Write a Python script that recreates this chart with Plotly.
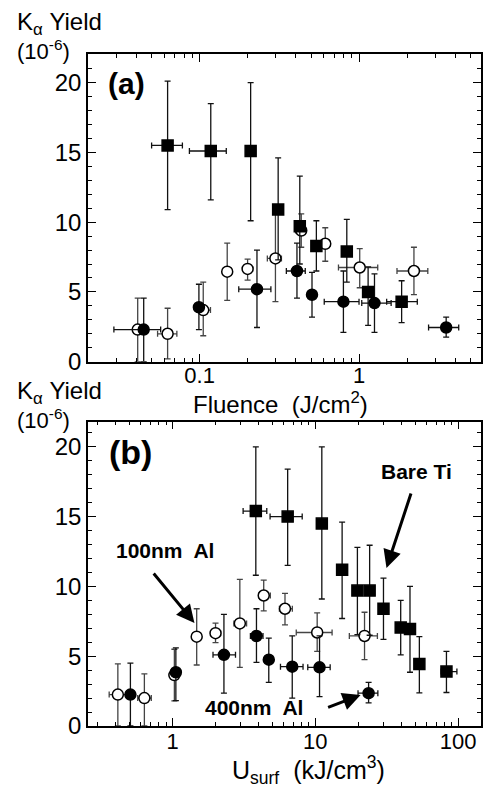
import plotly.graph_objects as go

# ---------------- Panel (a): K-alpha yield vs fluence ----------------
a_sq_x = [0.063, 0.1175, 0.209, 0.311, 0.425, 0.54, 0.838, 1.14, 1.85]
a_sq_y = [15.5, 15.1, 15.1, 10.9, 9.7, 8.3, 7.9, 5.0, 4.3]
a_sq_yhi = [20.1, 18.5, 20.0, 14.6, 13.3, 10.1, 10.2, 6.8, 5.8]
a_sq_ylo = [10.9, 11.6, 10.1, 7.3, 7.0, 6.5, 5.7, 2.6, 2.8]
a_sq_xlo = [0.050, 0.0863, None, None, None, None, None, None, 1.49]
a_sq_xhi = [0.078, 0.147, None, None, None, None, None, None, 2.32]

a_fc_x = [0.0446, 0.099, 0.229, 0.408, 0.507, 0.798, 1.25, 3.52]
a_fc_y = [2.3, 3.9, 5.2, 6.5, 4.8, 4.3, 4.2, 2.45]
a_fc_yhi = [4.55, 5.55, 8.0, 8.5, 6.4, 6.5, 6.3, 3.2]
a_fc_ylo = [0.0, 2.3, 2.45, 4.55, 3.2, 2.1, 2.1, 1.76]
a_fc_xlo = [0.029, None, 0.176, 0.35, None, 0.605, 1.04, 2.73]
a_fc_xhi = [0.057, None, 0.28, 0.46, None, 1.0, 1.59, 4.22]

a_oc_x = [0.0409, 0.063, 0.1054, 0.149, 0.2, 0.299, 0.434, 0.614, 1.01, 2.21]
a_oc_y = [2.3, 2.0, 3.7, 6.45, 6.65, 7.4, 9.4, 8.45, 6.75, 6.5]
a_oc_yhi = [4.55, 3.83, 5.7, 8.5, 7.35, 10.6, 10.6, 9.6, 8.1, 8.2]
a_oc_ylo = [0.0, 0.2, 1.86, 4.4, 5.85, 4.3, 8.2, 7.2, 5.3, 4.8]
a_oc_xlo = [None, 0.0545, 0.099, None, 0.189, 0.266, 0.40, 0.56, 0.743, 1.73]
a_oc_xhi = [None, 0.072, 0.117, None, 0.215, 0.326, 0.46, 0.66, 1.31, 2.70]

# ---------------- Panel (b): K-alpha yield vs U_surf ----------------
b_sq_x = [3.83, 6.4, 11.1, 15.4, 19.7, 24.0, 30.0, 39.6, 46.0, 53.5, 82.8]
b_sq_y = [15.4, 15.0, 14.5, 11.2, 9.7, 9.7, 8.4, 7.05, 6.95, 4.45, 3.9]
b_sq_yhi = [20.0, 18.4, 20.0, 14.6, 12.8, 12.95, 10.6, 9.0, 10.0, 6.4, 5.35]
b_sq_ylo = [10.8, 11.5, 9.1, 7.7, 6.55, 6.5, 6.2, 5.1, 3.85, 2.37, 2.4]
b_sq_xlo = [3.12, 4.82, None, None, None, None, None, None, None, None, 76.0]
b_sq_xhi = [4.57, 8.09, None, None, None, None, None, None, None, None, 98.0]

b_fc_x = [0.507, 1.055, 2.29, 3.87, 4.72, 6.89, 10.7, 23.6]
b_fc_y = [2.25, 3.85, 5.1, 6.45, 4.75, 4.25, 4.2, 2.35]
b_fc_yhi = [4.5, 5.6, 8.0, 8.4, 6.3, 6.45, 6.45, 3.13]
b_fc_ylo = [0.0, 1.82, 2.35, 4.56, 3.13, 2.0, 2.1, 1.66]
b_fc_xlo = [None, None, 1.92, 3.51, None, 5.7, 8.85, 19.9]
b_fc_xhi = [None, None, 2.76, 4.3, None, 8.2, 12.7, 27.4]

b_oc_x = [0.414, 0.635, 1.03, 1.476, 2.0, 2.96, 4.35, 6.13, 10.3, 22.1]
b_oc_y = [2.25, 2.0, 3.65, 6.4, 6.65, 7.35, 9.35, 8.4, 6.7, 6.45]
b_oc_yhi = [4.45, 3.73, 5.5, 8.4, 7.37, 10.5, 10.45, 9.5, 8.1, 8.15]
b_oc_ylo = [0.0, 0.0, 1.8, 4.37, 5.98, 4.2, 8.25, 7.25, 5.34, 4.75]
b_oc_xlo = [0.36, 0.57, None, None, 1.9, 2.69, 4.02, 5.6, 7.35, 17.3]
b_oc_xhi = [0.47, 0.71, None, None, 2.17, 3.3, 4.84, 6.9, 13.1, 27.2]

# tick labels
a_xtick_vals = [0.1, 1]
a_xtick_text = ["0.1", "1"]
b_xtick_vals = [1, 10, 100]
b_xtick_text = ["1", "10", "100"]
y_tick_vals = [0, 5, 10, 15, 20]
y_tick_text = ["0", "5", "10", "15", "20"]

FONT = "Liberation Sans, Arial, Helvetica, sans-serif"
W, H = 484, 787
ML, MR, MT, MB = 88, 1, 54, 61
PW = W - ML - MR
PH = H - MT - MB


def px(xp):
    return (xp - ML) / PW


def py(yp):
    return (H - MB - yp) / PH


def plus(c, hi):
    return [None if h is None else h - v for v, h in zip(c, hi)]


def minus(c, lo):
    return [None if l is None else v - l for v, l in zip(c, lo)]


def series(x, y, ylo, yhi, xlo, xhi, symbol, fill, ecol, xa, ya):
    return go.Scatter(
        x=x, y=y, mode="markers", xaxis=xa, yaxis=ya, showlegend=False,
        marker=dict(symbol=symbol, size=11, color=fill,
                    line=dict(color="black", width=1.5)),
        error_y=dict(type="data", symmetric=False, array=plus(y, yhi),
                     arrayminus=minus(y, ylo), color=ecol, thickness=1.3, width=3),
        error_x=dict(type="data", symmetric=False, array=plus(x, xhi),
                     arrayminus=minus(x, xlo), color=ecol, thickness=1.3, width=3),
    )


fig = go.Figure()
fig.add_trace(series(a_oc_x, a_oc_y, a_oc_ylo, a_oc_yhi, a_oc_xlo, a_oc_xhi,
                     "circle", "white", "#444", "x", "y"))
fig.add_trace(series(a_fc_x, a_fc_y, a_fc_ylo, a_fc_yhi, a_fc_xlo, a_fc_xhi,
                     "circle", "black", "#111", "x", "y"))
fig.add_trace(series(a_sq_x, a_sq_y, a_sq_ylo, a_sq_yhi, a_sq_xlo, a_sq_xhi,
                     "square", "black", "#111", "x", "y"))
fig.add_trace(series(b_oc_x, b_oc_y, b_oc_ylo, b_oc_yhi, b_oc_xlo, b_oc_xhi,
                     "circle", "white", "#444", "x2", "y2"))
fig.add_trace(series(b_fc_x, b_fc_y, b_fc_ylo, b_fc_yhi, b_fc_xlo, b_fc_xhi,
                     "circle", "black", "#111", "x2", "y2"))
fig.add_trace(series(b_sq_x, b_sq_y, b_sq_ylo, b_sq_yhi, b_sq_xlo, b_sq_xhi,
                     "square", "black", "#111", "x2", "y2"))


def minor_log(lo_dec, hi_dec):
    vals = []
    for d in range(lo_dec, hi_dec + 1):
        for m in range(2, 10):
            vals.append(m * 10 ** d)
    return vals


axis_common = dict(showline=True, linecolor="black", linewidth=1.5, mirror="ticks",
                   ticks="inside", ticklen=8, tickwidth=1.3, tickcolor="black",
                   showgrid=False, zeroline=False)
xfont = dict(family=FONT, size=22, color="black")
yfont = dict(family=FONT, size=24, color="black")

fig.update_layout(
    width=W, height=H, autosize=False,
    margin=dict(l=ML, r=MR, t=MT, b=MB, pad=0),
    paper_bgcolor="white", plot_bgcolor="white",
    xaxis=dict(type="log", range=[-1.70, 0.765], anchor="y", domain=[0, 1],
               tickmode="array", tickvals=a_xtick_vals, ticktext=a_xtick_text,
               ticklabelstandoff=-7, tickfont=xfont,
               minor=dict(tickmode="array", tickvals=minor_log(-2, 0), ticks="inside",
                          ticklen=4, tickcolor="black", tickwidth=1),
               **axis_common),
    yaxis=dict(range=[0, 22.05], anchor="x", domain=[py(361.7), 1],
               tickmode="array", tickvals=y_tick_vals, ticktext=y_tick_text,
               tickfont=yfont,
               minor=dict(dtick=1, ticks="inside", ticklen=4, tickcolor="black", tickwidth=1),
               **axis_common),
    xaxis2=dict(type="log", range=[-0.592, 2.16], anchor="y2", domain=[0, 1],
                tickmode="array", tickvals=b_xtick_vals, ticktext=b_xtick_text,
                ticklabelstandoff=-5, tickfont=xfont,
                minor=dict(tickmode="array", tickvals=minor_log(-1, 2), ticks="inside",
                           ticklen=4, tickcolor="black", tickwidth=1),
                **axis_common),
    yaxis2=dict(range=[0, 21.8], anchor="x2", domain=[0, py(421.7)],
                tickmode="array", tickvals=y_tick_vals, ticktext=y_tick_text,
                tickfont=yfont,
                minor=dict(dtick=1, ticks="inside", ticklen=4, tickcolor="black", tickwidth=1),
                **axis_common),
)


def text(xp, yp, s, size=22, bold=False, xanchor="center"):
    fig.add_annotation(x=px(xp), y=py(yp), xref="paper", yref="paper",
                       text=("<b>%s</b>" % s) if bold else s, showarrow=False,
                       xanchor=xanchor, yanchor="middle",
                       font=dict(family=FONT, size=size, color="black"))


def arrow(tx, ty, hx, hy):
    fig.add_annotation(x=px(hx), y=py(hy), xref="paper", yref="paper",
                       ax=tx - hx, ay=ty - hy, text="", showarrow=True,
                       arrowhead=2, arrowsize=1.2, arrowwidth=3, arrowcolor="black",
                       standoff=0)


# y-axis titles
text(15, 24, "K<sub>α</sub> Yield", size=24, xanchor="left")
text(15, 50, "(10<sup>-6</sup>)", size=22, xanchor="left")
text(15, 392, "K<sub>α</sub> Yield", size=24, xanchor="left")
text(15, 419, "(10<sup>-6</sup>)", size=22, xanchor="left")

# x-axis titles
text(281, 403, "Fluence  (J/cm<sup>2</sup>)", size=24)
text(310, 770, "U<sub>surf</sub>  (kJ/cm<sup>3</sup>)", size=25)

# panel labels
text(127, 84, "(a)", size=30, bold=True)
text(131, 452, "(b)", size=34, bold=True)

# annotations in panel (b)
text(418, 471, "Bare Ti", size=21, bold=True)
arrow(413, 492, 388, 568)
text(165, 550, "100nm  Al", size=21, bold=True)
arrow(153, 572, 195, 623)
text(255, 707, "400nm  Al", size=21, bold=True)
arrow(328, 708, 362, 695)

fig.write_html(
    "out.html",
    config={"displayModeBar": False},
    post_script="document.body.style.margin='0';document.body.style.padding='0';",
)
